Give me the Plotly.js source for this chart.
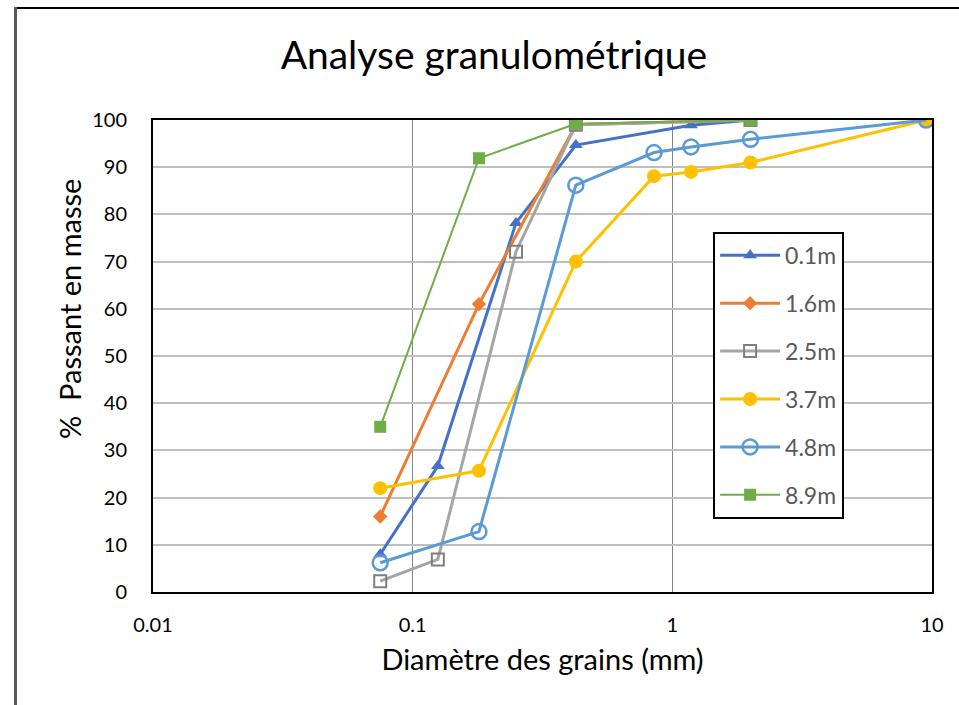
<!DOCTYPE html>
<html>
<head>
<meta charset="utf-8">
<script src="https://cdn.plot.ly/plotly-3.0.1.min.js"></script>
<style>
  html, body { margin: 0; padding: 0; background: #fff; }
  #wrap { position: relative; width: 959px; height: 705px; overflow: hidden; }
  #chart { width: 959px; height: 705px; }
  #bt { position: absolute; left: 14px; top: 7px; width: 960px; height: 0; border-top: 2px solid #000; pointer-events: none; }
  #bl { position: absolute; left: 14px; top: 7px; width: 0; height: 710px; border-left: 3px solid #595959; pointer-events: none; }
</style>
</head>
<body>
<div id="wrap">
  <div id="chart"></div>
  <div id="bt"></div>
  <div id="bl"></div>
</div>
<script>
// Diamètre (mm) and % passant par série
const x_01 = [0.075, 0.125, 0.25, 0.425, 1.18, 2];
const y_01 = [8, 26.7, 78.2, 94.7, 98.9, 100];

const x_16 = [0.075, 0.18, 0.425, 2];
const y_16 = [16, 61, 99, 100];

const x_25 = [0.075, 0.125, 0.25, 0.425, 2];
const y_25 = [2.3, 6.9, 72.1, 99, 100];

const x_37 = [0.075, 0.18, 0.425, 0.85, 1.18, 2, 9.5];
const y_37 = [22, 25.7, 70, 88.1, 89, 91, 100];

const x_48 = [0.075, 0.18, 0.425, 0.85, 1.18, 2, 9.5];
const y_48 = [6.2, 12.8, 86.2, 93.1, 94.3, 95.9, 100];

const x_89 = [0.075, 0.18, 0.425, 2];
const y_89 = [35, 91.9, 99.2, 100];

const seriesNames = ['0.1m', '1.6m', '2.5m', '3.7m', '4.8m', '8.9m'];
const xTickVals = [0.01, 0.1, 1, 10];
const xTickText = ['0.01', '0.1', '1', '10'];
const yTickVals = [0, 10, 20, 30, 40, 50, 60, 70, 80, 90, 100];

const FONT = 'Lato, "Open Sans", sans-serif';

const styles = [
  {color: '#4472C4', width: 3, symbol: 'triangle-up', size: 12, mcolor: '#4472C4', mline: 0},
  {color: '#ED7D31', width: 3, symbol: 'diamond', size: 11, mcolor: '#ED7D31', mline: 0},
  {color: '#A5A5A5', width: 3, symbol: 'square-open', size: 12, mcolor: '#7F7F7F', mline: 2},
  {color: '#FFC000', width: 3, symbol: 'circle', size: 14, mcolor: '#FFC000', mline: 0},
  {color: '#5B9BD5', width: 3, symbol: 'circle-open', size: 15, mcolor: '#5B9BD5', mline: 2.5},
  {color: '#70AD47', width: 2, symbol: 'square', size: 12, mcolor: '#70AD47', mline: 0}
];
const xs = [x_01, x_16, x_25, x_37, x_48, x_89];
const ys = [y_01, y_16, y_25, y_37, y_48, y_89];

const traces = seriesNames.map((n, i) => ({
  type: 'scatter',
  mode: 'lines+markers',
  name: n,
  legendgroup: 'g' + i,
  x: xs[i],
  y: ys[i],
  line: {color: styles[i].color, width: styles[i].width},
  marker: {symbol: styles[i].symbol, size: styles[i].size, color: styles[i].mcolor,
           line: {color: styles[i].mcolor, width: styles[i].mline}}
}));

const layout = {
  width: 959, height: 705,
  margin: {l: 153, r: 27, t: 120, b: 113},
  paper_bgcolor: '#fff', plot_bgcolor: '#fff',
  font: {family: FONT, color: '#000'},
  title: {text: 'Analyse granulométrique', font: {family: FONT, size: 39, color: '#000'},
          x: 0.515, xanchor: 'center', xref: 'container', y: 0.921, yanchor: 'middle', yref: 'container'},
  xaxis: {
    type: 'log', range: [-2, 1],
    tickvals: xTickVals, ticktext: xTickText,
    showgrid: true, gridcolor: '#868686', gridwidth: 1.5,
    showline: true, linecolor: '#000', linewidth: 2, mirror: true,
    ticks: '', ticklabelstandoff: 14,
    tickfont: {family: FONT, size: 20, color: '#000'},
    zeroline: false,
    title: {text: 'Diamètre des grains (mm)', font: {family: FONT, size: 29, color: '#000'}, standoff: 15}
  },
  yaxis: {
    range: [0, 100],
    tickvals: yTickVals,
    showgrid: true, gridcolor: '#BFBFBF', gridwidth: 2,
    showline: true, linecolor: '#000', linewidth: 2, mirror: true,
    ticks: '', ticklabelstandoff: 20,
    tickfont: {family: FONT, size: 20, color: '#000'},
    zeroline: false
  },
  annotations: [{
    text: '%  Passant en masse', textangle: -90,
    xref: 'paper', x: 0, xshift: -83, xanchor: 'center',
    yref: 'paper', y: 0.5996, yanchor: 'middle',
    showarrow: false, font: {family: FONT, size: 29, color: '#000'}
  }],
  showlegend: true,
  legend: {
    x: 0.719, y: 0.763, xanchor: 'left', yanchor: 'top',
    bgcolor: '#fff', bordercolor: '#000', borderwidth: 2,
    font: {family: FONT, size: 23, color: '#595959'},
    traceorder: 'grouped', tracegroupgap: 15,
    itemwidth: 60
  }
};

Plotly.newPlot('chart', traces, layout, {displayModeBar: false, staticPlot: true});
</script>
</body>
</html>
